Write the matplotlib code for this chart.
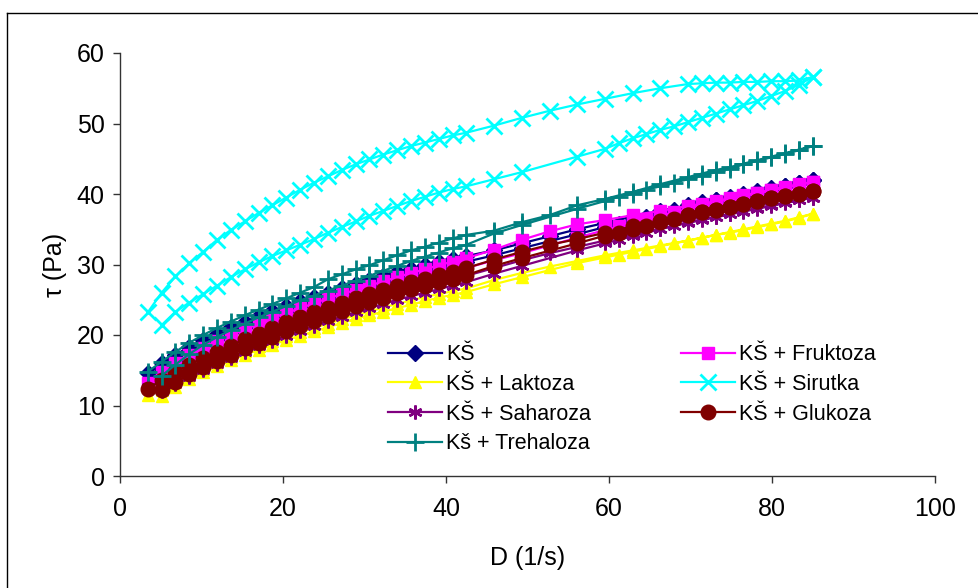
import matplotlib
matplotlib.use("Agg")
import matplotlib.pyplot as plt
from matplotlib.lines import Line2D

plt.rcParams['font.family'] = ['Liberation Sans', 'DejaVu Sans']

# shear rate (1/s) - first branch and second branch of each loop
X_A = [3.4, 5.1, 6.8, 8.5, 10.2, 11.9, 13.6, 15.3, 17.0, 18.7, 20.4, 22.1, 23.8, 25.5, 27.2,
       28.9, 30.6, 32.3, 34.0, 35.7, 37.4, 39.1, 40.8, 42.5, 45.9, 49.3, 52.7, 56.1, 59.5,
       62.9, 66.3, 69.7, 71.4, 73.1, 74.8, 76.5, 78.2, 79.9, 81.6, 83.3, 85.0]
X_B = [5.1, 6.8, 8.5, 10.2, 11.9, 13.6, 15.3, 17.0, 18.7, 20.4, 22.1, 23.8, 25.5, 27.2,
       28.9, 30.6, 32.3, 34.0, 35.7, 37.4, 39.1, 40.8, 42.5, 45.9, 49.3, 56.1, 59.5, 61.2,
       62.9, 64.6, 66.3, 68.0, 69.7, 71.4, 73.1, 74.8, 76.5, 78.2, 79.9, 81.6, 83.3, 85.0]

ks_a = [14.6, 16.0, 17.2, 18.3, 19.3, 20.2, 21.1, 21.9, 22.7, 23.4, 24.1, 24.8, 25.4, 26.0, 26.6,
        27.2, 27.8, 28.4, 28.9, 29.4, 29.9, 30.4, 30.8, 31.2, 32.0, 33.0, 34.0, 35.0, 35.9,
        36.8, 37.6, 38.4, 38.8, 39.2, 39.6, 40.0, 40.4, 40.8, 41.2, 41.6, 42.0]
ks_b = [15.2, 16.5, 17.6, 18.6, 19.5, 20.4, 21.2, 22.0, 22.7, 23.4, 24.1, 24.7, 25.3, 25.9,
        26.5, 27.1, 27.6, 28.1, 28.6, 29.1, 29.6, 30.0, 30.4, 31.3, 32.3, 34.3, 35.3, 35.8,
        36.3, 36.8, 37.3, 37.8, 38.2, 38.7, 39.1, 39.5, 39.9, 40.3, 40.7, 41.1, 41.5, 42.0]

fru_a = [13.2, 14.8, 16.0, 17.1, 18.1, 19.1, 20.0, 20.8, 21.6, 22.4, 23.1, 23.8, 24.5, 25.2, 25.8,
         26.4, 27.0, 27.6, 28.2, 28.8, 29.3, 29.9, 30.4, 30.9, 32.1, 33.5, 34.7, 35.7, 36.3,
         37.0, 37.6, 38.3, 38.6, 39.0, 39.4, 39.8, 40.2, 40.6, 41.0, 41.4, 41.7]
fru_b = [12.8, 14.0, 15.2, 16.3, 17.3, 18.3, 19.2, 20.0, 20.8, 21.6, 22.3, 23.0, 23.7, 24.4,
         25.0, 25.6, 26.2, 26.8, 27.4, 28.0, 28.5, 29.0, 29.5, 30.6, 31.6, 33.8, 34.9, 35.4,
         35.9, 36.4, 36.9, 37.4, 37.9, 38.4, 38.8, 39.3, 39.7, 40.1, 40.5, 40.9, 41.3, 41.7]

lak_a = [11.5, 12.2, 13.3, 14.3, 15.2, 16.1, 16.9, 17.7, 18.4, 19.1, 19.8, 20.4, 21.0, 21.6, 22.2,
         22.8, 23.3, 23.9, 24.4, 24.9, 25.4, 25.8, 26.2, 26.6, 27.8, 28.8, 29.7, 30.5, 31.3,
         32.0, 32.7, 33.4, 33.8, 34.2, 34.5, 34.9, 35.3, 35.7, 36.1, 36.6, 37.2]
lak_b = [11.3, 12.6, 13.7, 14.7, 15.6, 16.4, 17.2, 17.9, 18.6, 19.3, 19.9, 20.5, 21.1, 21.7,
         22.3, 22.8, 23.3, 23.8, 24.3, 24.8, 25.3, 25.7, 26.1, 27.2, 28.2, 30.2, 31.0, 31.4,
         31.8, 32.2, 32.6, 33.0, 33.4, 33.8, 34.2, 34.6, 35.0, 35.4, 35.8, 36.2, 36.7, 37.2]

sir_a = [23.2, 26.0, 28.3, 30.2, 31.8, 33.5, 34.9, 36.1, 37.3, 38.4, 39.5, 40.6, 41.6, 42.5, 43.4,
         44.2, 44.9, 45.6, 46.2, 46.8, 47.3, 47.8, 48.3, 48.7, 49.7, 50.8, 51.8, 52.7, 53.5,
         54.3, 55.0, 55.6, 55.7, 55.8, 55.8, 55.9, 55.9, 56.0, 56.0, 56.1, 56.6]
sir_b = [21.4, 23.3, 24.6, 25.8, 27.0, 28.2, 29.3, 30.3, 31.2, 32.0, 32.8, 33.6, 34.5, 35.3,
         36.1, 36.9, 37.6, 38.3, 39.0, 39.6, 40.2, 40.7, 41.1, 42.1, 43.1, 45.3, 46.4, 47.2,
         47.9, 48.5, 49.1, 49.6, 50.2, 50.8, 51.4, 52.0, 52.6, 53.2, 53.9, 54.6, 55.5, 56.6]

sah_a = [12.6, 13.4, 14.4, 15.4, 16.3, 17.2, 18.0, 18.8, 19.6, 20.3, 21.0, 21.7, 22.4, 23.0, 23.6,
         24.2, 24.8, 25.4, 25.9, 26.4, 26.9, 27.4, 27.9, 28.4, 29.5, 30.6, 31.6, 32.5, 33.4,
         34.3, 35.1, 35.9, 36.3, 36.7, 37.1, 37.5, 37.9, 38.3, 38.7, 39.1, 39.5]
sah_b = [12.0, 13.0, 14.0, 15.0, 15.9, 16.8, 17.6, 18.4, 19.2, 19.9, 20.6, 21.3, 22.0, 22.6,
         23.2, 23.8, 24.4, 25.0, 25.5, 26.0, 26.5, 27.0, 27.5, 28.7, 29.8, 32.0, 33.0, 33.5,
         34.0, 34.5, 35.0, 35.5, 36.0, 36.4, 36.8, 37.2, 37.6, 38.0, 38.4, 38.8, 39.1, 39.5]

glu_a = [12.3, 13.6, 14.8, 15.8, 16.7, 17.6, 18.5, 19.4, 20.2, 21.0, 21.8, 22.5, 23.2, 23.9, 24.6,
         25.2, 25.8, 26.4, 27.0, 27.5, 28.0, 28.5, 29.0, 29.5, 30.7, 31.8, 32.8, 33.6, 34.5,
         35.4, 36.2, 37.0, 37.4, 37.8, 38.2, 38.6, 39.0, 39.4, 39.7, 40.0, 40.4]
glu_b = [12.2, 13.3, 14.4, 15.4, 16.3, 17.2, 18.1, 18.9, 19.7, 20.5, 21.3, 22.0, 22.7, 23.4,
         24.1, 24.7, 25.3, 25.9, 26.5, 27.0, 27.5, 28.0, 28.5, 29.8, 30.9, 33.0, 34.1, 34.5,
         35.0, 35.5, 36.0, 36.5, 37.0, 37.4, 37.8, 38.2, 38.6, 39.0, 39.4, 39.7, 40.0, 40.4]

tre_a = [14.8, 16.2, 17.6, 18.9, 20.0, 21.0, 21.9, 22.8, 23.6, 24.4, 25.2, 26.0, 26.8, 27.9, 28.6,
         29.3, 29.9, 30.6, 31.3, 32.0, 32.5, 33.1, 33.7, 34.2, 34.8, 36.0, 37.0, 38.4, 39.3,
         40.3, 41.4, 42.4, 42.9, 43.4, 43.8, 44.3, 44.8, 45.3, 45.8, 46.3, 46.8]
tre_b = [14.2, 15.8, 17.3, 18.6, 19.7, 20.7, 21.6, 22.5, 23.3, 24.1, 24.9, 25.6, 26.3, 27.0,
         27.7, 28.4, 29.1, 29.8, 30.5, 31.1, 31.7, 32.3, 32.8, 34.4, 35.6, 37.9, 39.0, 39.6,
         40.0, 40.6, 41.1, 41.6, 42.1, 42.6, 43.1, 43.6, 44.2, 44.7, 45.2, 45.7, 46.2, 46.8]

labels = ["KŠ", "KŠ + Fruktoza", "KŠ + Laktoza", "KŠ + Sirutka",
          "KŠ + Saharoza", "KŠ + Glukoza", "Kš + Trehaloza"]

series = [
    # label, a, b, color, marker, ms, mew, mfc
    ("KŠ", ks_a, ks_b, "#000080", "D", 8, 1.0, "#000080"),
    ("KŠ + Fruktoza", fru_a, fru_b, "#FF00FF", "s", 8, 1.0, "#FF00FF"),
    ("KŠ + Laktoza", lak_a, lak_b, "#FFFF00", "^", 9, 1.0, "#FFFF00"),
    ("KŠ + Saharoza", sah_a, sah_b, "#800080", (6, 2, 0), 10, 1.8, "#800080"),
    ("KŠ + Glukoza", glu_a, glu_b, "#800000", "o", 10.5, 1.0, "#800000"),
    ("Kš + Trehaloza", tre_a, tre_b, "#008080", "+", 13, 2.0, "#008080"),
    ("KŠ + Sirutka", sir_a, sir_b, "#00FFFF", "x", 11, 2.0, "#00FFFF"),
]

fig = plt.figure(figsize=(9.79, 5.88), dpi=100)
ax = fig.add_axes([120 / 979, 1 - 476 / 588, 815 / 979, 423 / 588])

handles = {}
for i, (lab, ya, yb, col, mk, ms, mew, mfc) in enumerate(series):
    xs = list(X_A) + list(reversed(X_B))
    ys = list(ya) + list(reversed(yb))
    ax.plot(xs, ys, color=col, lw=1.6, marker=mk, ms=ms, mew=mew,
            mfc=mfc, mec=col, zorder=3 + i, clip_on=False)
    handles[lab] = Line2D([], [], color=col, lw=1.6, marker=mk, ms=ms, mew=mew,
                          mfc=mfc, mec=col)

ax.set_xlim(0, 100)
ax.set_ylim(0, 60)
ax.set_xticks([0, 20, 40, 60, 80, 100])
ax.set_yticks([0, 10, 20, 30, 40, 50, 60])
for s in ["top", "right"]:
    ax.spines[s].set_visible(False)
for s in ["left", "bottom"]:
    ax.spines[s].set_color("#333333")
    ax.spines[s].set_linewidth(1.0)
ax.tick_params(direction="out", length=5, width=1, color="#333333", labelsize=18)
ax.tick_params(axis="x", pad=10)
ax.tick_params(axis="y", pad=6)
ax.set_xlabel("D (1/s)", fontsize=18, labelpad=18)
ax.set_ylabel("τ (Pa)", fontsize=18, labelpad=7)

order = ["KŠ", "KŠ + Laktoza", "KŠ + Saharoza", "Kš + Trehaloza",
         "KŠ + Fruktoza", "KŠ + Sirutka", "KŠ + Glukoza"]
leg = fig.legend([handles[k] for k in order], order, loc="upper left",
                 bbox_to_anchor=(369 / 979, 1 - 325 / 588), ncol=2, frameon=False,
                 fontsize=15.5, handlelength=2.5, handletextpad=0.2,
                 columnspacing=4.15, labelspacing=0.40, borderpad=0.4)

# outer chart border
fig.add_artist(Line2D([7.5 / 979, 7.5 / 979], [0, 1 - 13 / 588], color="black", lw=1.0,
                      transform=fig.transFigure))
fig.add_artist(Line2D([7.5 / 979, 1], [1 - 13 / 588, 1 - 13 / 588], color="black", lw=1.0,
                      transform=fig.transFigure))

fig.savefig("out.png", dpi=100)
